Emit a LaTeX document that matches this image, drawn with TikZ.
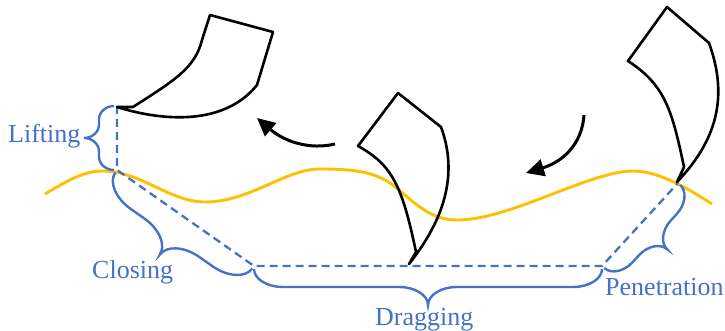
\documentclass[tikz,border=0pt]{standalone}
\usepackage{fontspec}
\setmainfont{Liberation Serif}
\usetikzlibrary{arrows.meta,decorations}

% Curly brace with rounded, office-style bends.
\pgfdeclaredecoration{softbrace}{final}{%
  \state{final}[width=\pgfdecoratedremainingdistance,next state=final]{%
    \pgfmathsetmacro\sbL{\pgfdecoratedremainingdistance}%
    \pgfmathsetmacro\sbA{\pgfdecorationsegmentamplitude}%
    \pgfmathsetmacro\sbM{\pgfdecorationsegmentaspect*\sbL}%
    \pgfmathsetmacro\sbC{min(0.8*\sbA,0.42*\sbM,0.42*(\sbL-\sbM))}%
    \pgfmathsetmacro\sbH{0.5*\sbA}%
    \pgfpathmoveto{\pgfpointorigin}%
    \pgfpathcurveto{\pgfpoint{0}{0.55*\sbH}}{\pgfpoint{0.45*\sbC}{\sbH}}{\pgfpoint{\sbC}{\sbH}}%
    \pgfpathlineto{\pgfpoint{\sbM-\sbC}{\sbH}}%
    \pgfpathcurveto{\pgfpoint{\sbM-0.45*\sbC}{\sbH}}{\pgfpoint{\sbM}{\sbA-0.55*\sbH}}{\pgfpoint{\sbM}{\sbA}}%
    \pgfpathcurveto{\pgfpoint{\sbM}{\sbA-0.55*\sbH}}{\pgfpoint{\sbM+0.45*\sbC}{\sbH}}{\pgfpoint{\sbM+\sbC}{\sbH}}%
    \pgfpathlineto{\pgfpoint{\sbL-\sbC}{\sbH}}%
    \pgfpathcurveto{\pgfpoint{\sbL-0.45*\sbC}{\sbH}}{\pgfpoint{\sbL}{0.55*\sbH}}{\pgfpoint{\sbL}{0}}%
  }%
}

\definecolor{phaseblue}{HTML}{4472C4}
\definecolor{soilyellow}{HTML}{FFC000}

\tikzset{
  blade/.style={draw=black, line width=2.6pt, line join=round},
  motion/.style={draw=black, line width=3pt, -{Triangle[length=18pt,width=17pt]}},
  ground/.style={draw=soilyellow, line width=2.9pt},
  track/.style={draw=phaseblue, line width=2.3pt, dash pattern=on 8pt off 5pt},
  phasebrace/.style={draw=phaseblue, line width=2.4pt, decorate,
    decoration={softbrace, raise=3pt, amplitude=#1}},
  phaselabel/.style={text=phaseblue, inner sep=0pt, anchor=base west,
    font=\fontsize{26}{30}\selectfont},
}

\begin{document}
\begin{tikzpicture}[x=1pt, y=-1pt]
\useasboundingbox (0,0) rectangle (725,331);

% key points of the tip trajectory
\coordinate (liftTop)  at (117,106);
\coordinate (liftBot)  at (117,170);
\coordinate (dragL)    at (254,266);
\coordinate (dragR)    at (602,266);
\coordinate (penTop)   at (678,183);

% soil surface
\draw[ground] (45,194) .. controls (70,179) and (85,171) .. (103,171)
  .. controls (140,171) and (170,202) .. (205,202)
  .. controls (250,202) and (285,169) .. (320,169)
  .. controls (355,169) and (375,172) .. (393,185)
  .. controls (415,203) and (430,220) .. (457,220)
  .. controls (510,220) and (590,171) .. (633,171)
  .. controls (660,171) and (690,190) .. (712,204);

% trajectory of the tip
\draw[track] (liftTop) -- (liftBot) -- (dragL) -- (dragR) -- (penTop);

% blades
\draw[blade] (117,107) -- (133,107) .. controls (175,80) and (195,68) .. (202,40)
  -- (210,15) -- (273,32) -- (257,85) .. controls (225,125) and (165,122) .. (117,107) -- cycle;
\draw[blade] (409,264) -- (416,252) .. controls (402,185) and (392,165) .. (358,146)
  -- (398,93) -- (441,127) .. controls (455,165) and (452,210) .. (409,264) -- cycle;
\draw[blade] (677,182) -- (684,167) .. controls (672,110) and (665,85) .. (628,61)
  -- (667,7) -- (709,43) .. controls (726,90) and (722,135) .. (677,182) -- cycle;

% direction of motion
\coordinate (aTail) at (335,144);
\coordinate (aHead) at (257,118);
\coordinate (bTail) at (584,115);
\coordinate (bHead) at (526,173);
\draw[motion] (aTail) .. controls (310,150) and (285,142) .. (aHead);
\draw[motion] (bTail) .. controls (582,145) and (562,162) .. (bHead);

% phase braces
\draw[phasebrace=30pt] (liftBot) -- (liftTop);
\draw[phasebrace=42pt] (dragL) -- (liftBot);
\draw[phasebrace=36pt] (dragR) -- (dragL);
\draw[phasebrace=34pt] (penTop) -- (dragR);

% phase names
\node[phaselabel] (lifting)     at (8,143)   {Lifting};
\node[phaselabel] (closing)     at (92,278)  {Closing};
\node[phaselabel] (dragging)    at (375,325) {Dragging};
\node[phaselabel] (penetration) at (605,295) {Penetration};
\end{tikzpicture}
\end{document}
